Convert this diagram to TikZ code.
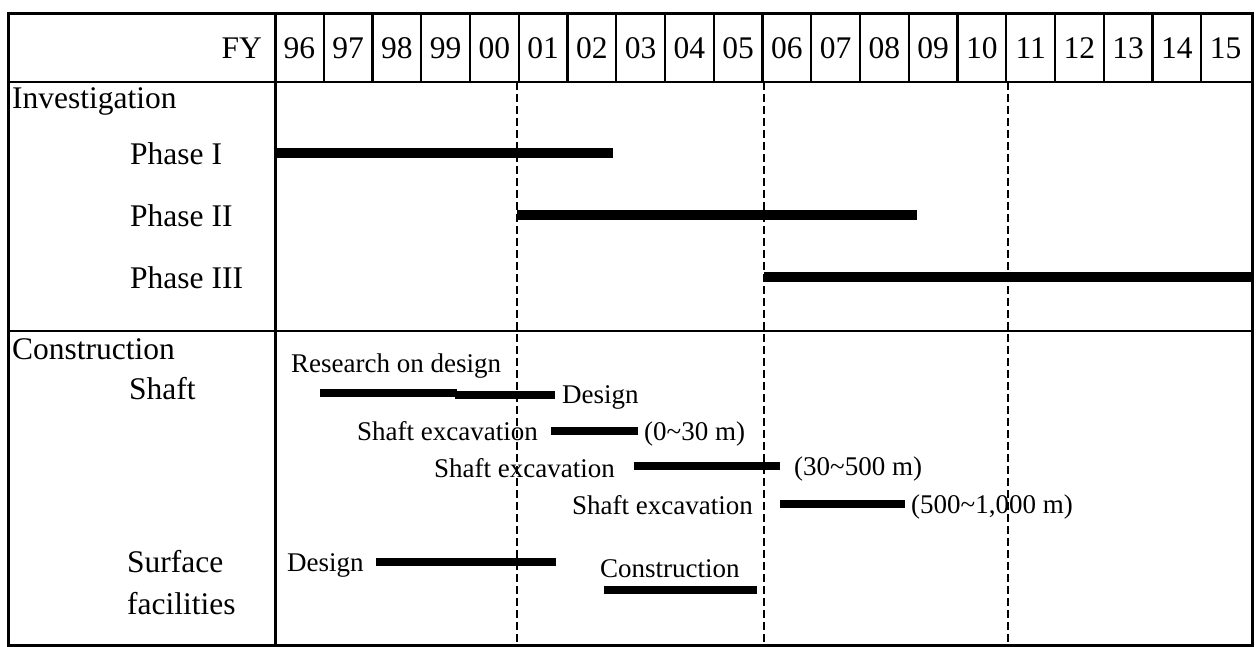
\documentclass[tikz,border=0pt]{standalone}
\usepackage{fontspec}
\setmainfont{Liberation Serif}
\begin{document}
\begin{tikzpicture}[x=1pt,y=-1pt,
  font=\fontsize{27}{30}\selectfont,
  big/.style={font=\fontsize{31.5}{34}\selectfont},
  frame/.style={line width=3pt},
  grid/.style={line width=2.4pt},
  vdash/.style={line width=1.6pt, dash pattern=on 8pt off 4pt},
  bigbar/.style={line width=10pt},
  smallbar/.style={line width=8pt},
  lbl/.style={inner sep=0pt, anchor=base west},
  lblr/.style={inner sep=0pt, anchor=base east},
  yr/.style={inner sep=0pt, anchor=base}]
\useasboundingbox (0,0) rectangle (1257,646);
% frame and grid
\draw[frame] (8,13) rectangle (1252,645);
\draw[grid] (8,82) -- (1252,82);
\draw[grid] (8,331) -- (1252,331);
\draw[frame] (275,13) -- (275,645);
\foreach \k in {1,...,19}{
  \draw[line width=2.2pt] ({275+48.75*\k},13) -- ({275+48.75*\k},82);
}
% years
\foreach \lab [count=\k from 0] in {96,97,98,99,00,01,02,03,04,05,06,07,08,09,10,11,12,13,14,15}{
  \node[yr,big] (y\lab) at ({275+48.75*\k+24.4},58) {\lab};
}
\node[lblr,big] (fy) at (262,58) {FY};
% dashed lines
\draw[vdash] (517,82) -- (517,645);
\draw[vdash] (764,82) -- (764,645);
\draw[vdash] (1008,82) -- (1008,645);
% left labels
\node[lbl,big] (inv) at (12,108) {Investigation};
\node[lbl,big] (p1) at (130,164) {Phase I};
\node[lbl,big] (p2) at (130,226) {Phase II};
\node[lbl,big] (p3) at (130,288) {Phase III};
\node[lbl,big] (con) at (12,359) {Construction};
\node[lbl,big] (shaft) at (129,399) {Shaft};
\node[lbl,big] (surf) at (127,572) {Surface};
\node[lbl,big] (fac) at (127,614) {facilities};
% phase bars
\draw[bigbar] (275,153) -- (613,153);
\draw[bigbar] (517,215) -- (917,215);
\draw[bigbar] (764,277) -- (1252,277);
% shaft
\node[lbl] (rod) at (291,372) {Research on design};
\draw[smallbar] (320,393) -- (457,393);
\draw[smallbar] (455,395) -- (555,395);
\node[lbl] (des1) at (562,403) {Design};
\node[lbl] (se1) at (357,440) {Shaft excavation};
\draw[smallbar] (551,431) -- (638,431);
\node[lbl] (r1) at (644,440) {(0\textasciitilde30 m)};
\node[lbl] (se2) at (434,477) {Shaft excavation};
\draw[smallbar] (634,466) -- (780,466);
\node[lbl] (r2) at (794,475) {(30\textasciitilde500 m)};
\node[lbl] (se3) at (572,514) {Shaft excavation};
\draw[smallbar] (780,504) -- (905,504);
\node[lbl] (r3) at (911,513) {(500\textasciitilde1,000 m)};
% surface facilities
\node[lbl] (des2) at (287,571) {Design};
\draw[smallbar] (376,562) -- (556,562);
\node[lbl] (cons) at (600,577) {Construction};
\draw[smallbar] (604,590) -- (757,590);
\end{tikzpicture}
\end{document}
